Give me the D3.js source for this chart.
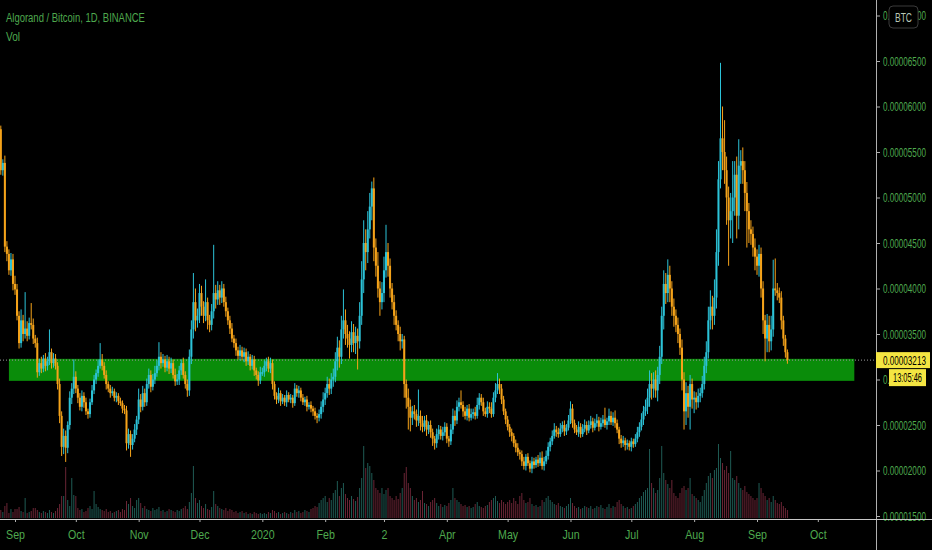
<!DOCTYPE html>
<html>
<head>
<meta charset="utf-8">
<script src="https://cdn.jsdelivr.net/npm/d3@7"></script>
<style>
  body { margin: 0; background: #000; }
  svg { display: block; }
  text { font-family: "Liberation Sans", Arial, sans-serif; }
</style>
</head>
<body>
<svg id="chart"></svg>
<script>
// prices in satoshi (1e-8 BTC), one candle per day starting 2019-08-25
var firstOpen = 5750;
var closes = [
  5300, 5380, 4460, 4380, 4200, 4320, 4050,
  // Sep 2019
  3990, 3700, 3400, 3650, 3500, 3560, 3480, 3620, 3600, 3450, 3400, 3080, 3180, 3120, 3230,
  3150, 3200, 3300, 3180, 3230, 3150, 2950, 2600, 2260, 2380, 2250, 2500, 2800, 2900, 3030,
  // Oct
  2900, 2800, 2700, 2820, 2750, 2650, 2620, 2750, 2880, 3000, 3070, 3150, 3220, 3150, 3050, 2950,
  2900, 2850, 2870, 2800, 2820, 2760, 2740, 2680, 2660, 2300, 2400, 2280, 2350, 2450, 2560,
  // Nov
  2780, 2700, 2850, 2750, 2950, 3050, 2920, 3000, 3070, 3150, 3250, 3180, 3220, 3130, 3200,
  3120, 3180, 3050, 2980, 3000, 3100, 3180, 3050, 2950, 2880, 3250, 3550, 3850, 3650, 3700,
  // Dec
  3950, 3800, 3700, 3850, 3650, 3600, 3750, 3950, 3880, 3980, 3900, 4000, 3850, 3750, 3650, 3560,
  3450, 3400, 3320, 3260, 3320, 3250, 3300, 3200, 3250, 3150, 3220, 3100, 3050, 2990, 3080,
  // Jan 2020
  3080, 3150, 3200, 3120, 3180, 2950, 2820, 2780, 2850, 2760, 2800, 2750, 2830, 2780, 2800, 2740,
  2900, 2850, 2880, 2800, 2750, 2780, 2700, 2720, 2680, 2650, 2600, 2580, 2620, 2700, 2780,
  // Feb
  2850, 2950, 2900, 3000, 3030, 3200, 3350, 3250, 3550, 3650, 3500, 3450, 3380, 3520, 3400,
  3480, 3420, 3700, 4100, 4500, 4400, 4650, 4900, 5100, 4450, 4250, 4000, 3850, 3950,
  // Mar
  4200, 4400, 4250, 4000, 3850, 3700, 3600, 3500, 3420, 3440, 2950, 2800, 2700, 2580, 2650, 2620,
  2550, 2600, 2520, 2480, 2550, 2450, 2500, 2420, 2350, 2300, 2400, 2450, 2380, 2420, 2480,
  // Apr
  2350, 2320, 2450, 2600, 2550, 2700, 2750, 2720, 2650, 2600, 2680, 2580, 2620, 2640, 2600,
  2720, 2800, 2750, 2650, 2620, 2700, 2680, 2620, 2800, 2880, 2950, 2900, 2780, 2650, 2560,
  // May
  2480, 2420, 2380, 2300, 2250, 2200, 2180, 2100, 2050, 2150, 2080, 2020, 2100, 2060, 2120, 2080,
  2140, 2050, 2100, 2160, 2260, 2320, 2380, 2450, 2420, 2400, 2460, 2500, 2430, 2470, 2550,
  // Jun
  2680, 2520, 2450, 2420, 2480, 2400, 2460, 2500, 2440, 2500, 2540, 2470, 2520, 2550, 2480,
  2520, 2560, 2500, 2540, 2600, 2530, 2580, 2520, 2450, 2350, 2300, 2330, 2280, 2300, 2260,
  // Jul
  2320, 2290, 2350, 2420, 2480, 2560, 2650, 2700, 2800, 2950, 2900, 3000, 2880, 3050, 3250, 3700,
  4050, 3950, 4150, 4000, 3800, 3700, 3600, 3500, 3350, 3000, 2650, 2850, 2700, 2950, 2780,
  // Aug
  2800, 2750, 2820, 2850, 2950, 3150, 3300, 3650, 3800, 3700, 3900, 4400, 5200, 5650, 5500, 5300,
  5000, 4750, 4850, 5000, 5250, 4800, 5350, 5400, 5300, 5050, 4850, 4650, 4600, 4450, 4350,
  // Sep
  4250, 4380, 4000, 3650, 3450, 3600, 3420, 3550, 4000, 3980, 3950, 3900, 3650, 3450, 3300, 3213
];
// wick length above the body / below the body, satoshi
var wickHi = [
  40, 40, 80, 60, 50, 70, 60,
  90, 60, 50, 120, 60, 400, 80, 60, 220, 70, 40, 60, 50, 70, 40, 60, 50, 250, 40, 60, 50, 40, 60, 50, 80, 60, 40, 70, 60, 190,
  60, 40, 50, 60, 40, 50, 30, 40, 60, 50, 40, 70, 180, 60, 40, 50, 30, 40, 50, 30, 40, 30, 40, 30, 40, 50, 60, 40, 50, 60, 40,
  120, 60, 80, 50, 60, 70, 50, 60, 80, 60, 160, 50, 60, 40, 70, 50, 60, 40, 70, 60, 50, 40, 60, 40, 50, 80, 100, 320, 150, 80,
  100, 80, 60, 250, 50, 60, 80, 530, 90, 100, 60, 80, 50, 60, 40, 50, 60, 40, 50, 40, 60, 40, 50, 40, 60, 30, 50, 40, 30, 40, 60,
  50, 60, 40, 50, 60, 40, 30, 40, 60, 30, 40, 30, 50, 30, 40, 30, 60, 40, 50, 30, 40, 30, 40, 30, 40, 30, 40, 30, 50, 60, 80,
  60, 80, 60, 70, 90, 100, 120, 80, 150, 340, 120, 100, 80, 120, 90, 100, 80, 150, 200, 250, 150, 200, 150, 75, 120, 100, 150, 80, 120,
  150, 300, 100, 80, 60, 80, 60, 50, 80, 60, 40, 50, 100, 80, 60, 70, 50, 290, 60, 80, 50, 60, 40, 50, 40, 30, 60, 50, 40, 60, 50,
  40, 30, 60, 80, 60, 70, 50, 130, 40, 50, 40, 50, 60, 40, 60, 80, 50, 40, 50, 40, 60, 50, 70, 60, 80, 120, 60, 50, 40, 30,
  40, 30, 40, 30, 40, 50, 30, 40, 50, 30, 40, 30, 50, 40, 30, 50, 60, 70, 50, 60, 50, 40, 60, 70, 40, 50, 60, 40, 50, 40, 60,
  80, 50, 40, 50, 60, 40, 50, 60, 40, 50, 60, 40, 50, 70, 40, 60, 50, 130, 40, 80, 50, 60, 80, 40, 30, 40, 50, 30, 40, 30,
  40, 30, 50, 60, 50, 70, 60, 80, 100, 150, 120, 80, 100, 90, 120, 100, 150, 120, 170, 100, 80, 90, 70, 80, 60, 90, 80, 120, 80, 100, 60,
  70, 60, 80, 60, 90, 100, 120, 150, 180, 120, 200, 250, 200, 830, 350, 350, 150, 120, 200, 400, 150, 200, 290, 120, 150, 100, 120, 90, 100, 80, 100,
  80, 100, 70, 80, 60, 120, 100, 150, 316, 330, 80, 60, 70, 50, 40, 30
];
var wickLo = [
  50, 60, 60, 80, 50, 60, 70,
  60, 50, 60, 50, 80, 50, 60, 40, 50, 60, 50, 60, 40, 50, 40, 60, 50, 40, 60, 50, 40, 60, 80, 100, 80, 156, 60, 50, 70, 60,
  50, 60, 40, 50, 60, 40, 50, 40, 30, 40, 50, 40, 30, 50, 40, 60, 40, 50, 30, 40, 50, 40, 30, 50, 40, 80, 60, 130, 50, 40, 60,
  50, 60, 40, 50, 40, 50, 60, 40, 50, 40, 50, 60, 40, 50, 40, 60, 50, 40, 50, 40, 60, 50, 40, 50, 70, 60, 80, 100, 120, 80,
  80, 100, 80, 60, 100, 80, 60, 80, 100, 60, 80, 60, 50, 60, 50, 60, 40, 50, 60, 40, 50, 40, 60, 50, 40, 50, 40, 60, 50, 60, 40,
  40, 50, 60, 40, 50, 60, 40, 50, 40, 50, 30, 40, 50, 30, 40, 50, 30, 40, 50, 40, 30, 40, 50, 30, 40, 50, 40, 60, 40, 50, 60,
  60, 50, 70, 60, 80, 60, 100, 120, 80, 100, 120, 100, 150, 80, 100, 120, 310, 80, 100, 150, 200, 120, 100, 150, 150, 120, 100, 150, 80,
  100, 80, 120, 100, 80, 100, 60, 80, 100, 80, 150, 120, 250, 150, 80, 60, 70, 60, 80, 60, 50, 70, 50, 60, 80, 70, 50, 60, 40, 50, 40,
  50, 60, 40, 50, 60, 40, 50, 40, 60, 40, 50, 40, 30, 50, 40, 30, 50, 40, 50, 30, 40, 50, 40, 30, 50, 40, 60, 50, 40, 50,
  40, 50, 60, 40, 50, 40, 60, 50, 40, 50, 30, 40, 50, 40, 30, 40, 30, 40, 50, 30, 40, 50, 40, 30, 50, 40, 30, 40, 50, 40, 30,
  40, 50, 40, 30, 50, 40, 30, 40, 50, 30, 40, 50, 30, 40, 50, 30, 40, 30, 50, 40, 30, 40, 50, 40, 60, 50, 40, 60, 50, 40,
  50, 40, 30, 40, 50, 40, 60, 50, 80, 100, 120, 100, 80, 120, 100, 80, 150, 120, 100, 150, 100, 120, 80, 100, 80, 120, 200, 150, 120, 250, 100,
  150, 80, 60, 70, 50, 60, 80, 70, 100, 150, 100, 120, 150, 100, 200, 150, 300, 500, 200, 350, 200, 250, 150, 200, 150, 200, 400, 150, 120, 100, 150,
  100, 120, 100, 150, 250, 150, 120, 100, 80, 60, 80, 60, 100, 80, 60, 40
];
var volumes = [
  8, 6, 12, 15, 5, 9, 6,
  9, 9, 11, 7, 6, 20, 5, 6, 7, 10, 10, 8, 6, 5, 7, 6, 5, 8, 6, 5, 7, 10, 14, 22, 22, 51, 18, 12, 40, 23,
  22, 10, 8, 9, 6, 7, 10, 12, 9, 27, 14, 11, 9, 8, 7, 9, 6, 7, 5, 6, 7, 8, 6, 9, 8, 17, 14, 20, 12, 10, 18,
  20, 15, 10, 12, 9, 8, 7, 10, 8, 9, 11, 7, 8, 6, 7, 9, 8, 7, 6, 8, 7, 9, 10, 12, 9, 16, 25, 52, 20, 15,
  18, 12, 10, 14, 9, 8, 11, 27, 14, 12, 10, 9, 8, 10, 7, 9, 8, 6, 7, 5, 6, 7, 5, 6, 4, 5, 4, 6, 5, 4, 5,
  4, 5, 4, 6, 5, 8, 7, 5, 6, 4, 5, 6, 5, 4, 6, 5, 8, 6, 7, 5, 6, 8, 7, 6, 9, 10, 12, 11, 15, 18, 20,
  22, 16, 20, 18, 25, 28, 37, 22, 30, 35, 24, 20, 18, 22, 19, 17, 21, 30, 40, 72, 50, 55, 52, 45, 38, 30, 28, 25, 30,
  24, 28, 30, 22, 20, 18, 22, 19, 25, 30, 45, 51, 35, 30, 22, 18, 20, 16, 18, 27, 15, 14, 12, 16, 18, 20, 15, 12, 14, 11, 13,
  12, 15, 18, 30, 20, 18, 16, 14, 12, 13, 11, 12, 10, 11, 14, 16, 12, 11, 10, 12, 13, 16, 18, 20, 22, 17, 15, 18, 16, 14,
  16, 18, 15, 20, 17, 14, 22, 25, 18, 15, 16, 20, 14, 12, 13, 11, 12, 18, 16, 20, 22, 18, 16, 14, 13, 15, 12, 11, 10, 12, 14,
  20, 15, 12, 10, 11, 9, 10, 12, 11, 10, 12, 9, 10, 12, 11, 13, 10, 9, 11, 14, 10, 12, 11, 16, 18, 14, 12, 10, 11, 9,
  10, 12, 14, 16, 20, 22, 26, 28, 30, 69, 35, 30, 25, 28, 40, 72, 45, 38, 34, 30, 38, 25, 22, 20, 25, 30, 32, 28, 30, 40, 24,
  22, 20, 18, 16, 22, 28, 35, 42, 45, 40, 48, 50, 74, 60, 55, 48, 52, 45, 67, 40, 38, 42, 35, 30, 28, 32, 26, 24, 22, 20, 18,
  20, 35, 30, 25, 22, 18, 20, 16, 22, 18, 15, 14, 16, 12, 10, 8
];
var monthLabels = ["Sep", "Oct", "Nov", "Dec", "2020", "Feb", "2", "Apr", "May", "Jun", "Jul", "Aug", "Sep", "Oct"];
var priceTicks = [1500, 2000, 2500, 3000, 3500, 4000, 4500, 5000, 5500, 6000, 6500, 7000];
var zoneRange = [2985, 3227];
var zoneDates = [Date.UTC(2019, 7, 29), Date.UTC(2020, 9, 19)];
var lastPrice = 3213;
var countdown = "13:05:46";

var W = 932, H = 550, axisX = 876, axisY = 519;
var green = "#4ea94e";

var svg = d3.select('#chart').attr('width', W).attr('height', H);
svg.append('rect').attr('width', W).attr('height', H).attr('fill', '#000');

// squeeze a text horizontally to a target width, anchored at (x, y)
function narrowText(sel, x0, y0, width) {
  sel.attr('x', 0).attr('y', 0);
  var w = sel.node().getComputedTextLength();
  sel.attr('transform', 'translate(' + x0 + ',' + y0 + ') scale(' + (width / w) + ',1)');
}

var startDay = new Date(Date.UTC(2019, 7, 25));
var candles = closes.map(function(c, i) {
  var o = i === 0 ? firstOpen : closes[i - 1];
  return {
    date: d3.utcDay.offset(startDay, i),
    open: o, close: c,
    high: Math.max(o, c) + wickHi[i],
    low: Math.min(o, c) - wickLo[i],
    vol: volumes[i]
  };
});

var x = d3.scaleUtc()
  .domain([new Date(Date.UTC(2019, 8, 1)), new Date(Date.UTC(2020, 8, 1))])
  .range([15, 757]);
var y = d3.scaleLinear().domain([1500, 7000]).range([516, 15.5]);
var yVol = d3.scaleLinear().domain([0, 80]).range([axisY - 1, axisY - 81]);
var dayW = x(new Date(Date.UTC(2019, 8, 2))) - x(new Date(Date.UTC(2019, 8, 1)));

svg.append('clipPath').attr('id', 'plot')
  .append('rect').attr('width', axisX).attr('height', axisY);
var plot = svg.append('g').attr('clip-path', 'url(#plot)');

// support zone
plot.append('rect')
  .attr('x', x(new Date(zoneDates[0])))
  .attr('width', x(new Date(zoneDates[1])) - x(new Date(zoneDates[0])))
  .attr('y', y(zoneRange[1]))
  .attr('height', y(zoneRange[0]) - y(zoneRange[1]))
  .attr('fill', '#0a8c0a');

// volume
plot.selectAll('rect.vol')
  .data(candles)
  .enter()
  .append('rect')
  .attr('class', 'vol')
  .attr('x', function(d) { return x(d.date) - 0.5; })
  .attr('width', 1)
  .attr('y', function(d) { return yVol(d.vol); })
  .attr('height', function(d) { return yVol(0) - yVol(d.vol); })
  .attr('fill', function(d) { return d.close >= d.open ? '#1f5b54' : '#6a2535'; });

// last price line
plot.append('line')
  .attr('x1', 0).attr('x2', axisX)
  .attr('y1', y(lastPrice)).attr('y2', y(lastPrice))
  .attr('stroke', '#9a9a9a').attr('stroke-width', 1)
  .attr('stroke-dasharray', '1,2');

// candles
var up = '#2cc3d8', down = '#f5a31a';
plot.selectAll('line.wick')
  .data(candles)
  .enter()
  .append('line')
  .attr('class', 'wick')
  .attr('x1', function(d) { return x(d.date); })
  .attr('x2', function(d) { return x(d.date); })
  .attr('y1', function(d) { return y(d.high); })
  .attr('y2', function(d) { return y(d.low); })
  .attr('stroke', function(d) { return d.close >= d.open ? up : down; })
  .attr('stroke-width', 1);

plot.selectAll('rect.body')
  .data(candles)
  .enter()
  .append('rect')
  .attr('class', 'body')
  .attr('x', function(d) { return x(d.date) - dayW * 0.5; })
  .attr('width', dayW)
  .attr('y', function(d) { return y(Math.max(d.open, d.close)); })
  .attr('height', function(d) { return Math.max(1.5, Math.abs(y(d.open) - y(d.close))); })
  .attr('fill', function(d) { return d.close >= d.open ? up : down; });

// axes
var yAxis = svg.append('g')
  .attr('transform', 'translate(' + axisX + ',0)')
  .call(d3.axisRight(y).tickValues(priceTicks).tickSize(4).tickPadding(3)
    .tickFormat(function(d) { return (d * 1e-8).toFixed(8); }));
yAxis.select('.domain').remove();
yAxis.selectAll('line').attr('stroke', '#b0b0b0');
yAxis.selectAll('text').attr('fill', green).style('font-size', '12.5px')
  .each(function() { narrowText(d3.select(this), 7, 0, 43); });

var months = d3.utcMonth.range(new Date(Date.UTC(2019, 8, 1)), new Date(Date.UTC(2020, 10, 1)));
var xAxis = svg.append('g')
  .attr('transform', 'translate(0,' + axisY + ')')
  .call(d3.axisBottom(x).tickValues(months).tickSize(3).tickPadding(8)
    .tickFormat(function(d, i) { return monthLabels[i]; }));
xAxis.select('.domain').remove();
xAxis.selectAll('line').attr('stroke', '#b0b0b0');
xAxis.selectAll('text').attr('fill', green).style('font-size', '13px')
  .attr('transform', 'scale(0.82,1)')
  .attr('x', 0);

svg.append('line').attr('x1', axisX + 0.5).attr('x2', axisX + 0.5)
  .attr('y1', 0).attr('y2', H).attr('stroke', '#b0b0b0');
svg.append('line').attr('x1', 0).attr('x2', W)
  .attr('y1', axisY + 0.5).attr('y2', axisY + 0.5).attr('stroke', '#c8c8c8');

// currency badge
svg.append('rect').attr('x', 889).attr('y', 6).attr('width', 29).attr('height', 22)
  .attr('rx', 4).attr('fill', '#000').attr('stroke', '#3a3a3a');
narrowText(svg.append('text').attr('fill', '#b8c8b8').style('font-size', '12.5px').text('BTC'),
  895, 21.5, 17);

// last price + countdown
var ly = y(lastPrice);
svg.append('rect').attr('x', axisX).attr('y', ly - 8).attr('width', 54).attr('height', 16)
  .attr('fill', '#f4e542');
narrowText(svg.append('text').attr('fill', '#000').style('font-size', '12.5px')
  .text((lastPrice * 1e-8).toFixed(8)), axisX + 7, ly + 4.5, 43);
svg.append('rect').attr('x', 889).attr('y', ly + 9).attr('width', 37).attr('height', 17)
  .attr('fill', '#f4e542');
narrowText(svg.append('text').attr('fill', '#000').style('font-size', '12.5px').text(countdown),
  893, ly + 22, 29);

// legend
narrowText(svg.append('text').attr('fill', green).style('font-size', '13.5px')
  .text('Algorand / Bitcoin, 1D, BINANCE'), 6, 22, 139);
narrowText(svg.append('text').attr('fill', green).style('font-size', '13.5px').text('Vol'),
  6, 41, 14);
</script>
</body>
</html>
